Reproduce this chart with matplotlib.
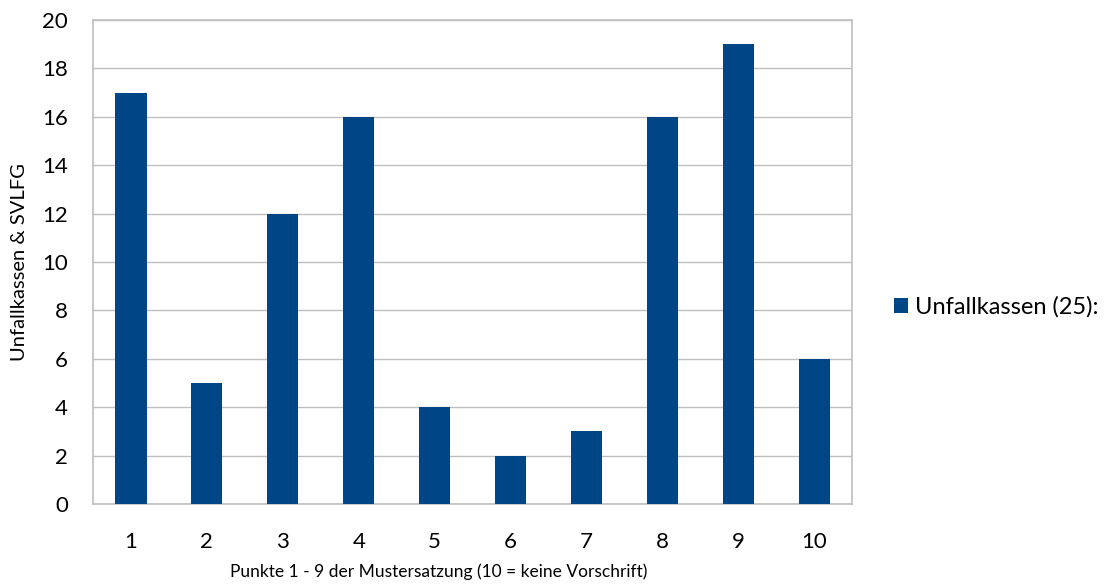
import matplotlib
matplotlib.use('Agg')
import matplotlib.pyplot as plt
import numpy as np

# data
punkte = ['1', '2', '3', '4', '5', '6', '7', '8', '9', '10']
unfallkassen = [17, 5, 12, 16, 4, 2, 3, 16, 19, 6]
yticks = [0, 2, 4, 6, 8, 10, 12, 14, 16, 18, 20]

plt.rcParams['font.family'] = ['Lato', 'DejaVu Sans']

fig = plt.figure(figsize=(11.13, 5.87), dpi=100)
ax = fig.add_axes([0.0836, 0.1414, 0.682, 0.8246])

x = np.arange(len(punkte))
ax.bar(x, unfallkassen, width=0.41, color='#004586', label='Unfallkassen (25):', zorder=3)

ax.set_xlim(-0.5, len(punkte) - 0.5)
ax.set_ylim(0, 20)
ax.set_yticks(yticks)
ax.set_xticks(x)
ax.set_xticklabels(punkte)
ax.tick_params(axis='both', length=0, labelsize=16, colors='black')
ax.tick_params(axis='x', pad=20)
ax.tick_params(axis='y', pad=18)
ax.grid(axis='y', color='#bfbfbf', linewidth=1, zorder=0)
for s in ax.spines.values():
    s.set_color('#bfbfbf')
    s.set_linewidth(1.2)

ax.set_xlabel('Punkte 1 - 9 der Mustersatzung (10 = keine Vorschrift)', fontsize=12.5)
ax.xaxis.set_label_coords(0.455, -0.122)
ax.set_ylabel('Unfallkassen & SVLFG', fontsize=14.5)
ax.yaxis.set_label_coords(-0.086, 0.5)

ax.legend(loc='center left', bbox_to_anchor=(1.027, 0.407), frameon=False, fontsize=17,
          handlelength=0.6, handleheight=0.6, handletextpad=0.3)

fig.savefig('out.png', dpi=100)
